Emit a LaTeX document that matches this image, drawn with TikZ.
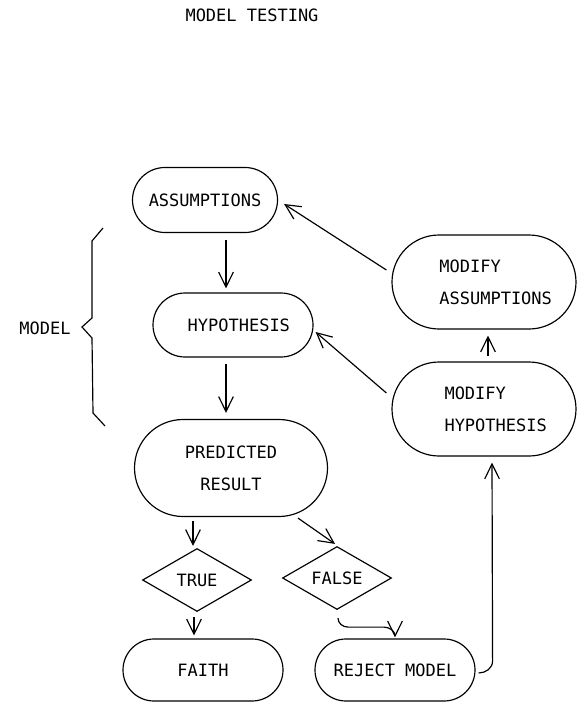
\documentclass[tikz,border=0pt]{standalone}
\usepackage{fontspec}
\newfontfamily\plotfont{DejaVu Sans Mono}
\usetikzlibrary{arrows.meta,shapes.misc,shapes.geometric}

\begin{document}
\begin{tikzpicture}[x=0.3mm,y=-0.3mm,line width=1pt,
	font=\plotfont\fontsize{14.5}{27}\selectfont,
	box/.style={draw,rounded rectangle,inner sep=0pt},
	choice/.style={draw,diamond,aspect=1.7,inner sep=0pt,minimum width=32.7mm,minimum height=18.9mm},
	arr/.style={-{Straight Barb[length=4.5mm,width=4.4mm]}}]
		\useasboundingbox (0,0) rectangle (578,703);
		%
		% title
		\node (title) at (252,15) {MODEL TESTING};
		%
		% model
		\node[box,minimum width=43.5mm,minimum height=19.5mm] (assum) at (205,200) {ASSUMPTIONS};
		\node[box,minimum width=48mm,minimum height=19.2mm] (hyp) at (233,325) {\hspace*{3.5mm}HYPOTHESIS};
		\node[box,align=center,minimum width=57.9mm,minimum height=29.1mm] (pred) at (231,468) {PREDICTED\\RESULT};
		\node (model) at (45,328) {MODEL};
		\draw (103,228) -- (92,241) -- (92,318) -- (82,327) -- (92,338) -- (93,413) -- (105,426);
		%
		% test
		\node[choice] (true) at (197,580) {TRUE};
		\node[choice] (false) at (337,578) {FALSE};
		\node[box,minimum width=48mm,minimum height=18.6mm] (faith) at (203,670) {FAITH};
		\node[box,minimum width=48mm,minimum height=18.6mm] (reject) at (395,670) {REJECT MODEL};
		%
		% modify
		\node[box,align=left,minimum width=55.2mm,minimum height=28.2mm] (modass) at (484,282)
			{\hspace*{7mm}MODIFY\\\hspace*{7mm}ASSUMPTIONS};
		\node[box,align=left,minimum width=55.2mm,minimum height=28.2mm] (modhyp) at (484,409)
			{\hspace*{7mm}MODIFY\\\hspace*{7mm}HYPOTHESIS};
		%
		% arrows
		\draw[arr] ([shift={(21,7)}]assum.south) -- ([shift={(-7,-4)}]hyp.north);
		\draw[arr] ([shift={(-7,6)}]hyp.south) -- ([shift={(-5,-6)}]pred.north);
		\draw[arr] ([shift={(-38,4)}]pred.south) -- ([shift={(-4,-2)}]true.north);
		\draw[arr] ([shift={(67,1)}]pred.south) -- ([shift={(-2,-2)}]false.north);
		\draw[arr] ([shift={(-3,5)}]true.south) -- ([shift={(-9,-3)}]faith.north);
		\draw[arr] ([shift={(1,8)}]false.south) to[out=-90,in=180] ++(10,9) -- ++(36,0)
			to[out=0,in=90] ([shift={(0,-1)}]reject.north);
		\draw[arr] ([shift={(3,3)}]reject.east) to[out=0,in=-90] ++(14,-12) -- ([shift={(8,6)}]modhyp.south);
		\draw[arr] ([shift={(4,-5)}]modhyp.north) -- ([shift={(4,6)}]modass.south);
		\draw[arr] ([shift={(-5,-12)}]modass.west) -- ([shift={(6,4)}]assum.east);
		\draw[arr] ([shift={(-5,-16)}]modhyp.west) -- ([shift={(2,7)}]hyp.east);
	\end{tikzpicture}
\end{document}
